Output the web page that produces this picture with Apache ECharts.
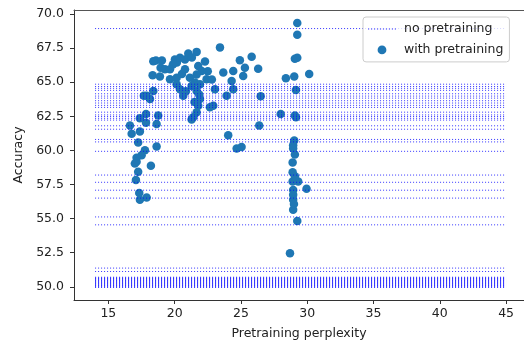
<!DOCTYPE html>
<html>
<head>
<meta charset="utf-8">
<script src="https://cdn.jsdelivr.net/npm/echarts@6/dist/echarts.min.js"></script>
<style>
  html, body { margin: 0; padding: 0; background: #fff; }
  #chart { width: 524px; height: 345px; }
</style>
</head>
<body>
<div id="chart"></div>
<script>
// accuracy levels of the runs without pretraining (horizontal reference lines)
const noPretrainAccuracy = [
    68.93,
    64.85, 64.68, 64.55, 64.4, 64.15, 63.98, 63.83, 63.64, 63.47, 63.3, 63.15,
    62.8, 62.6, 62.48, 62.35, 62.22, 61.8, 61.55,
    60.8, 60.62, 59.93, 58.19, 57.66, 57.08, 56.5, 55.12, 54.54,
    51.37, 51.12,
    50.7, 50.65, 50.6, 50.55, 50.5, 50.45, 50.4, 50.35, 50.3, 50.25, 50.2,
    50.15, 50.1, 50.05, 50.0, 49.95
];
const lineSpan = [14, 45];

// runs with pretraining
const pretrainPerplexity = [
    16.63, 16.76, 17.38, 17.25, 17.76, 17.51, 17.13, 17.13, 17.00, 18.21, 17.25,
    17.08, 17.33, 17.38, 17.89, 18.64, 17.84, 17.38, 18.76, 18.64, 17.84, 17.89,
    17.68, 18.14, 18.39, 18.34, 18.89, 18.59, 18.94, 19.27, 18.39, 19.04,
    19.65, 20.15, 20.02, 20.17, 19.87, 20.40, 21.03, 21.66, 21.78, 22.04, 21.66,
    21.15, 22.41, 21.53, 21.28, 20.15, 20.40, 20.65, 21.66, 21.91, 21.78, 21.66,
    21.40, 21.28, 22.91, 22.66, 22.29, 20.78, 19.65, 21.91, 20.78, 21.30, 22.50,
    23.04, 22.81, 20.85, 21.85, 21.50, 20.55,
    23.42, 23.67, 24.42, 24.92, 25.30, 25.81, 26.30, 25.17, 24.30, 24.42, 23.92,
    26.49, 26.38, 24.04, 24.68, 25.05, 28.00,
    29.25, 29.25, 29.07, 29.25, 30.15, 28.39, 29.02, 29.15, 29.07, 29.15, 29.02,
    28.94, 28.94, 29.07, 28.90, 28.90, 29.32, 28.90, 29.95, 28.94, 28.94, 28.94,
    28.94, 29.25, 28.70, 29.07, 29.00
];
const pretrainAccuracy = [
    61.82, 61.22, 61.39, 60.57, 60.01, 59.64, 59.46, 59.17, 59.04, 58.88, 58.44,
    57.83, 56.87, 56.38, 56.55, 60.28, 62.67, 62.36, 62.55, 61.94, 62.02, 64.00,
    64.00, 63.76, 64.36, 65.50, 65.41, 66.59, 66.06, 65.94, 66.54, 66.59,
    65.21, 65.33, 66.66, 66.44, 66.30, 66.79, 67.10, 67.22, 66.18, 65.81, 65.57,
    65.33, 65.21, 64.97, 64.72, 64.85, 64.48, 64.00, 64.36, 63.76, 63.27, 62.79,
    62.43, 62.26, 63.27, 63.16, 66.52, 65.94, 65.94, 64.85, 66.66, 66.80, 65.80,
    64.48, 65.20, 64.34, 64.10, 63.55, 65.60,
    67.55, 65.70, 65.81, 66.61, 66.06, 66.86, 65.99, 65.45, 65.09, 64.48, 64.00,
    63.96, 61.82, 61.10, 60.13, 60.25, 62.67,
    69.33, 68.48, 66.71, 66.79, 65.60, 65.28, 65.41, 64.43, 62.55, 62.43, 60.73,
    60.37, 60.13, 59.70, 59.11, 58.39, 57.71, 57.71, 57.18, 57.10, 56.74, 56.38,
    55.65, 54.83, 52.46, 58.10, 56.07
];

const xTicks = [15, 20, 25, 30, 35, 40, 45];
const yTicks = [50, 52.5, 55, 57.5, 60, 62.5, 65, 67.5, 70];

const font = "DejaVu Sans";
const textColor = "#222";

// dotted line sample for the legend (28 x 14 box)
let dottedIcon = "path://M0,0 M28,14";
for (let d = 0; d < 28; d += 3) {
    dottedIcon += " M" + d + ",6.5 h1.2 v1 h-1.2 Z";
}

const chart = echarts.init(document.getElementById("chart"), null, { renderer: "canvas" });

let series = noPretrainAccuracy.map(v => ({
    name: "no pretraining",
    type: "line",
    data: [[lineSpan[0], v], [lineSpan[1], v]],
    symbol: "none",
    silent: true,
    z: 3,
    lineStyle: { color: "#0000ff", width: 1, type: [1, 2], opacity: 0.8 }
}));
series.push({
    name: "with pretraining",
    type: "scatter",
    data: pretrainPerplexity.map((x, i) => [x, pretrainAccuracy[i]]),
    symbolSize: 8.5,
    z: 2,
    itemStyle: { color: "#1f77b4", opacity: 1 }
});

const option = {
    animation: false,
    color: ["#0000ff", "#1f77b4"],
    grid: { left: 74, right: 0, top: 10, bottom: 42.3 },
    legend: {
        orient: "vertical",
        left: 363,
        top: 17,
        padding: [5, 6, 5, 5],
        itemWidth: 28,
        itemHeight: 14,
        itemGap: 7,
        borderColor: "#ccc",
        borderWidth: 1,
        borderRadius: 3,
        backgroundColor: "rgba(255,255,255,0.8)",
        textStyle: { fontFamily: font, fontSize: 12.5, color: textColor, padding: [0, 0, 0, 3] },
        data: [
            { name: "no pretraining", icon: dottedIcon, itemStyle: { color: "#3a3aff" } },
            { name: "with pretraining", icon: "path://M0,0 M14,14 M7,2.6 A4.4,4.4 0 1 1 6.99,2.6 Z" }
        ]
    },
    xAxis: [{
        type: "value",
        min: 12.41,
        max: 46.35,
        name: "Pretraining perplexity",
        nameLocation: "middle",
        nameGap: 27,
        nameTextStyle: { fontFamily: font, fontSize: 12.5, color: textColor },
        axisLine: { lineStyle: { color: "#333", width: 1 } },
        axisTick: { show: true, inside: false, length: 4, customValues: xTicks, lineStyle: { color: "#333" } },
        axisLabel: { customValues: xTicks, margin: 7, fontFamily: font, fontSize: 12.5, color: textColor },
        splitLine: { show: false }
    }, {
        type: "value",
        position: "top",
        min: 12.41,
        max: 46.35,
        axisLine: { show: true, lineStyle: { color: "#555", width: 1 } },
        axisTick: { show: false },
        axisLabel: { show: false },
        splitLine: { show: false }
    }],
    yAxis: {
        type: "value",
        min: 49.03,
        max: 70.29,
        name: "Accuracy",
        nameLocation: "middle",
        nameGap: 45,
        nameRotate: 90,
        nameTextStyle: { fontFamily: font, fontSize: 12.5, color: textColor },
        axisLine: { show: true, lineStyle: { color: "#333", width: 1 } },
        axisTick: { show: true, inside: false, length: 4, customValues: yTicks, lineStyle: { color: "#333" } },
        axisLabel: {
            customValues: yTicks, margin: 10, fontFamily: font, fontSize: 12.5, color: textColor,
            formatter: v => v.toFixed(1)
        },
        splitLine: { show: false }
    },
    series
};
chart.setOption(option);
</script>
</body>
</html>
